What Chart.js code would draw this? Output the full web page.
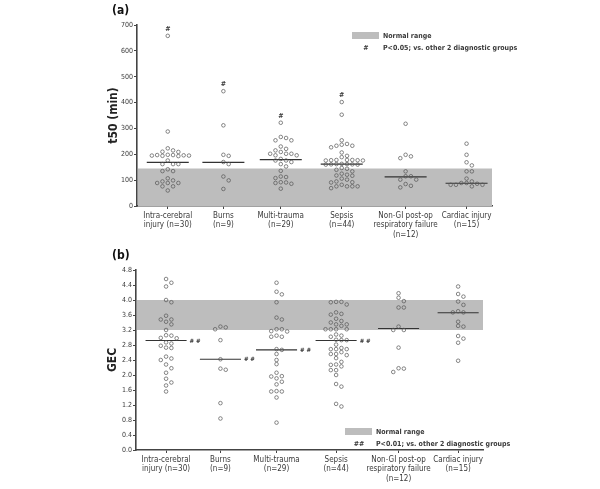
<!DOCTYPE html>
<html lang="en">
<head>
<meta charset="UTF-8">
<title>t50 and GEC by diagnostic group</title>
<script src="https://cdn.jsdelivr.net/npm/chart.js"></script>
<style>
  body { margin: 0; background: #fff; }
  .panel { position: absolute; left: 0; width: 600px; }
  #panelA { top: 0; height: 245px; }
  #panelB { top: 245px; height: 244px; }
</style>
</head>
<body>
<div class="panel" id="panelA"><canvas id="chartA"></canvas></div>
<div class="panel" id="panelB"><canvas id="chartB"></canvas></div>
<script>
// diagnostic groups (x categories) and where they sit on the x axis
const groups = [
  ['Intra-cerebral', 'injury (n=30)'],
  ['Burns', '(n=9)'],
  ['Multi-trauma', '(n=29)'],
  ['Sepsis', '(n=44)'],
  ['Non-GI post-op', 'respiratory failure', '(n=12)'],
  ['Cardiac injury', '(n=15)']
];
const groupPos = [0.52, 1.46, 2.43, 3.46, 4.54, 5.57];

// (a) t50 in minutes
const t50 = [
  [658, 288, 223, 215, 209, 210, 196, 195, 197, 194, 193, 195, 197, 198, 176, 162, 162, 162, 135, 135, 142, 107, 95, 89, 89, 89, 99, 76, 76, 60],
  [444, 312, 198, 194, 170, 162, 114, 99, 66],
  [322, 267, 254, 254, 263, 230, 221, 209, 202, 196, 215, 196, 202, 202, 176, 176, 170, 182, 162, 153, 136, 108, 114, 112, 91, 92, 86, 89, 67],
  [402, 353, 254, 237, 233, 240, 227, 233, 207, 194, 189, 178, 176, 177, 178, 176, 177, 178, 162, 160, 161, 163, 161, 160, 162, 144, 147, 140, 134, 121, 117, 118, 125, 106, 95, 92, 102, 91, 76, 69, 76, 76, 76, 82],
  [318, 192, 185, 198, 134, 115, 115, 102, 102, 85, 72, 78],
  [241, 198, 169, 157, 134, 134, 106, 95, 89, 82, 82, 89, 76, 82, 86]
];
const t50Median = [169, 169, 179, 162, 113, 88];
const t50Normal = [0, 145];
const t50Ticks = [0, 700, 100];

// (b) GEC
const gec = [
  [4.56, 4.46, 4.36, 3.94, 4.00, 3.58, 3.48, 3.42, 3.48, 3.35, 3.20, 3.05, 3.06, 2.99, 2.87, 2.98, 2.84, 2.78, 2.72, 2.73, 2.49, 2.44, 2.40, 2.28, 2.18, 2.06, 1.90, 1.80, 1.72, 1.56],
  [3.27, 3.22, 3.29, 2.93, 2.42, 2.14, 2.17, 1.25, 0.84],
  [4.46, 4.22, 4.15, 3.94, 3.53, 3.48, 3.22, 3.16, 3.17, 3.22, 3.02, 3.02, 3.05, 2.67, 2.69, 2.56, 2.40, 2.29, 1.97, 2.06, 1.91, 1.96, 1.82, 1.75, 1.57, 1.56, 1.56, 1.40, 0.73],
  [3.95, 3.88, 3.94, 3.95, 3.63, 3.67, 3.61, 3.50, 3.40, 3.44, 3.35, 3.31, 3.35, 3.22, 3.22, 3.22, 3.22, 3.08, 3.02, 3.05, 2.93, 2.93, 2.94, 2.81, 2.69, 2.69, 2.69, 2.72, 2.61, 2.56, 2.53, 2.56, 2.45, 2.35, 2.23, 2.27, 2.28, 2.13, 2.13, 2.00, 1.76, 1.69, 1.16, 1.23],
  [4.18, 4.06, 3.97, 3.80, 3.80, 3.29, 3.20, 3.20, 2.73, 2.18, 2.08, 2.17],
  [4.36, 4.16, 4.09, 3.96, 3.87, 3.67, 3.67, 3.70, 3.42, 3.31, 3.29, 2.97, 3.04, 2.86, 2.38]
];
const gecMedian = [2.92, 2.42, 2.67, 2.92, 3.24, 3.66];
const gecNormal = [3.2, 4.0];
const gecTicks = [0, 4.8, 0.4];

// groups that differ from the others (marked # in a, ## in b)
const flagged = [true, true, true, true, false, false];

const FONT = "'Liberation Sans Narrow', 'DejaVu Sans Condensed', 'Liberation Sans', sans-serif";
const INK = '#3a3a3a';
const BAND = '#bdbdbd';

Chart.defaults.font.family = FONT;
Chart.defaults.color = INK;
Chart.defaults.animation = false;

// grey "normal range" band behind the points
const bandPlugin = {
  id: 'band',
  beforeDatasetsDraw(chart, args, opts) {
    const {ctx, chartArea, scales} = chart;
    const top = scales.y.getPixelForValue(opts.range[1]);
    const bottom = scales.y.getPixelForValue(opts.range[0]);
    ctx.save();
    ctx.fillStyle = BAND;
    ctx.fillRect(chartArea.left + 1, top, chartArea.right - chartArea.left - 1, bottom - top);
    ctx.restore();
  }
};

// panel letter, legend box and the significance marks
const notesPlugin = {
  id: 'notes',
  afterDraw(chart, args, opts) {
    const {ctx, scales} = chart;
    ctx.save();
    ctx.fillStyle = '#111';
    ctx.font = 'bold 12px ' + FONT;
    ctx.textBaseline = 'middle';
    ctx.fillText(opts.letter, 112, 11);

    const lg = opts.legend;
    ctx.fillStyle = BAND;
    ctx.fillRect(lg.x, lg.y, 27, 7);
    ctx.fillStyle = INK;
    ctx.font = 'bold 7px ' + FONT;
    ctx.fillText('Normal range', lg.x + 31, lg.y + 4);
    ctx.textAlign = 'center';
    ctx.fillText(opts.mark, lg.x + 14, lg.y + 16);
    ctx.textAlign = 'left';
    ctx.fillText(opts.note, lg.x + 31, lg.y + 16);

    // marks on the flagged groups
    flagged.forEach((f, g) => {
      if (!f) return;
      if (opts.mark === '#') {
        const x = scales.x.getPixelForValue(groupPos[g]);
        const y = scales.y.getPixelForValue(Math.max(...opts.values[g]));
        ctx.textAlign = 'center';
        ctx.font = 'bold 7px ' + FONT;
        ctx.fillText('#', x, y - 7);
      } else {
        const x = scales.x.getPixelForValue(groupPos[g] + opts.half);
        const y = scales.y.getPixelForValue(opts.medians[g]);
        ctx.textAlign = 'left';
        ctx.font = 'bold 6px ' + FONT;
        ctx.fillText('# #', x + 3, y + 0.5);
      }
    });
    ctx.restore();
  }
};

// simple beeswarm: spread close values sideways in slots
function swarm(chart, values, slotPx, gapPx) {
  const xs = chart.scales.x, ys = chart.scales.y;
  const pxPerX = xs.getPixelForValue(1) - xs.getPixelForValue(0);
  const pts = [];
  values.forEach((vals, g) => {
    const placed = [];
    vals.slice().sort((a, b) => b - a).forEach(v => {
      const py = ys.getPixelForValue(v);
      let k = 0;
      for (let i = 0; i < 30; i++) {
        const c = i === 0 ? 0 : (i % 2 ? (i + 1) / 2 : -i / 2);
        if (placed.every(p => Math.hypot(p.px - c * slotPx, p.py - py) >= gapPx)) { k = c; break; }
      }
      placed.push({px: k * slotPx, py: py});
      pts.push({x: groupPos[g] + k * slotPx / pxPerX, y: v});
    });
  });
  return pts;
}

function makePanel(id, cfg) {
  const half = 0.355;
  const medianSets = cfg.medians.map((m, g) => ({
    type: 'line',
    data: [{x: groupPos[g] - half, y: m}, {x: groupPos[g] + half, y: m}],
    borderColor: '#333',
    borderWidth: 1.2,
    pointRadius: 0
  }));
  const chart = new Chart(document.getElementById(id), {
    type: 'scatter',
    data: {
      datasets: [{
        data: [],
        pointRadius: 1.8,
        borderWidth: 0.7,
        borderColor: '#555',
        backgroundColor: 'rgba(0,0,0,0)'
      }].concat(medianSets)
    },
    options: {
      responsive: true,
      maintainAspectRatio: false,
      layout: {padding: cfg.padding},
      plugins: {
        legend: {display: false},
        tooltip: {enabled: false},
        band: {range: cfg.normal},
        notes: {letter: cfg.letter, legend: cfg.legend, mark: cfg.mark, note: cfg.note,
                values: cfg.values, medians: cfg.medians, half: half}
      },
      scales: {
        x: {
          type: 'linear', min: 0, max: 6,
          afterBuildTicks: axis => { axis.ticks = groupPos.map(v => ({value: v})); },
          afterFit: axis => { axis.height = 39; },
          ticks: {
            autoSkip: false, maxRotation: 0, padding: 2,
            font: {size: 8}, color: INK,
            callback: (v, i) => groups[i]
          },
          grid: {drawOnChartArea: false, tickLength: 3, color: '#444', lineWidth: 1},
          border: {color: '#444', width: 1.6}
        },
        y: {
          min: cfg.ticks[0], max: cfg.ticks[1],
          afterFit: axis => { axis.width = 40; },
          ticks: {
            stepSize: cfg.ticks[2], padding: 1,
            font: {size: 7}, color: INK,
            callback: cfg.tickFmt
          },
          grid: {drawOnChartArea: false, tickLength: 3, color: '#444', lineWidth: 1},
          border: {color: '#444', width: 1.6},
          title: {display: true, text: cfg.title, color: '#222',
                  font: {size: 12, weight: 'bold'}, padding: {top: 10, bottom: 0}}
        }
      }
    },
    plugins: [bandPlugin, notesPlugin]
  });
  chart.data.datasets[0].data = swarm(chart, cfg.values, 5.3, 4);
  chart.update('none');
  return chart;
}

makePanel('chartA', {
  letter: '(a)', title: 't50 (min)', values: t50, medians: t50Median, normal: t50Normal,
  ticks: t50Ticks, tickFmt: v => v,
  padding: {left: 97, right: 108, top: 25, bottom: 0},
  legend: {x: 352, y: 32}, mark: '#', note: 'P<0.05; vs. other 2 diagnostic groups'
});

makePanel('chartB', {
  letter: '(b)', title: 'GEC', values: gec, medians: gecMedian, normal: gecNormal,
  ticks: gecTicks, tickFmt: v => Number(v).toFixed(1),
  padding: {left: 96, right: 117, top: 25, bottom: 0},
  legend: {x: 345, y: 183}, mark: '##', note: 'P<0.01; vs. other 2 diagnostic groups'
});
</script>
</body>
</html>
